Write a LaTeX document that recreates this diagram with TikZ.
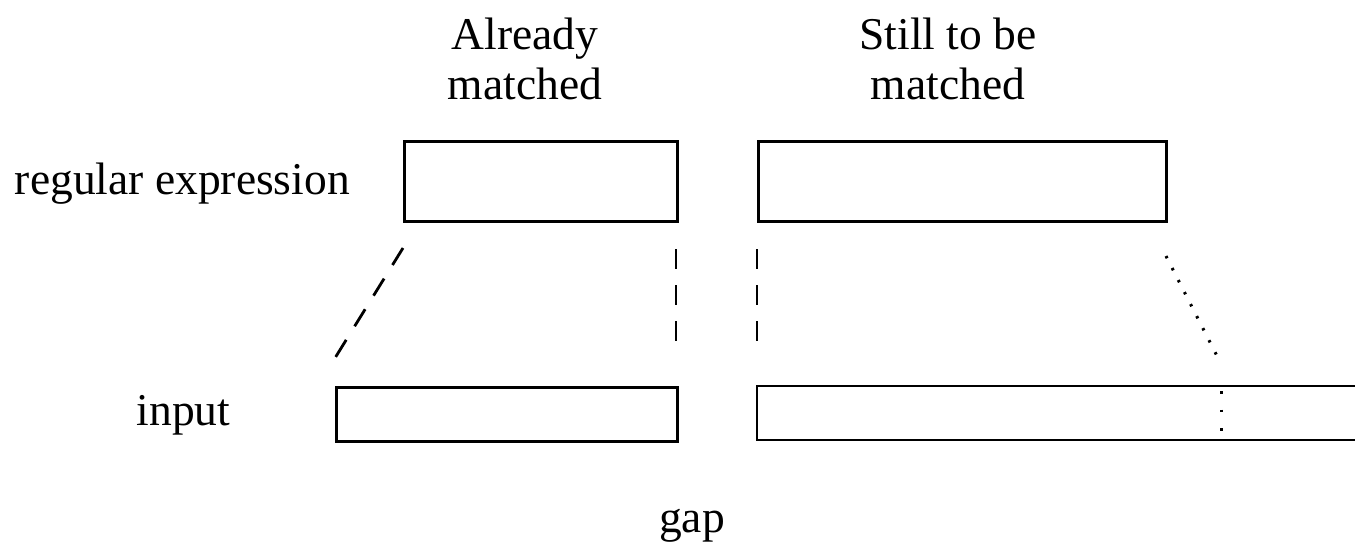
\documentclass[tikz,border=0pt]{standalone}
\usepackage{fontspec}
\setmainfont{Liberation Serif}
\begin{document}
\begin{tikzpicture}[x=1pt,y=-1pt,
  lbl/.style={inner sep=0pt,anchor=base,font=\fontsize{45.5}{48}\selectfont},
  boxline/.style={draw,line width=2.8pt},
  dashline/.style={line width=2.8pt,dash pattern=on 20pt off 16pt},
  dotline/.style={line width=3pt,dash pattern=on 2.5pt off 11pt},
  dotlineb/.style={line width=3pt,dash pattern=on 2.5pt off 16pt}]
\useasboundingbox (0,0) rectangle (1355,547);
% texts
\node[lbl] (am1) at (525,49) {Already};
\node[lbl] (am2) at (525,99) {matched};
\node[lbl] (sm1) at (948,49) {Still to be};
\node[lbl] (sm2) at (948,99) {matched};
\node[lbl,anchor=base east] (re) at (350,194) {regular expression};
\node[lbl] (in) at (183.5,425) {input};
\node[lbl] (gap) at (692,532) {gap};
% boxes
\node[boxline,inner sep=0pt,minimum width=273pt,minimum height=80pt,anchor=north west] (r1) at (403,140) {};
\node[boxline,inner sep=0pt,minimum width=408pt,minimum height=80pt,anchor=north west] (r2) at (757,140) {};
\node[boxline,inner sep=0pt,minimum width=341pt,minimum height=54pt,anchor=north west] (i1) at (335,386) {};
\coordinate (i2tl) at (757,386);
\coordinate (i2bl) at (757,440);
\coordinate (i2tr) at (1358,386);
\coordinate (i2br) at (1358,440);
\draw[line width=2.8pt] (i2tr) -- (i2tl) -- (i2bl) -- (i2br);
% connectors
\coordinate (d1a) at (403,248);
\coordinate (d1b) at (335,358);
\coordinate (d2a) at (676,249);
\coordinate (d2b) at (676,341);
\coordinate (d3a) at (757,249);
\coordinate (d3b) at (757,341);
\coordinate (d4a) at (1166,256);
\coordinate (d4b) at (1218,358);
\coordinate (d5a) at (1221,391);
\coordinate (d5b) at (1221,434);
\draw[dashline] (d1a) -- (d1b);
\draw[dashline] (d2a) -- (d2b);
\draw[dashline] (d3a) -- (d3b);
\draw[dotline] (d4a) -- (d4b);
\draw[dotlineb] (d5a) -- (d5b);
\end{tikzpicture}
\end{document}
